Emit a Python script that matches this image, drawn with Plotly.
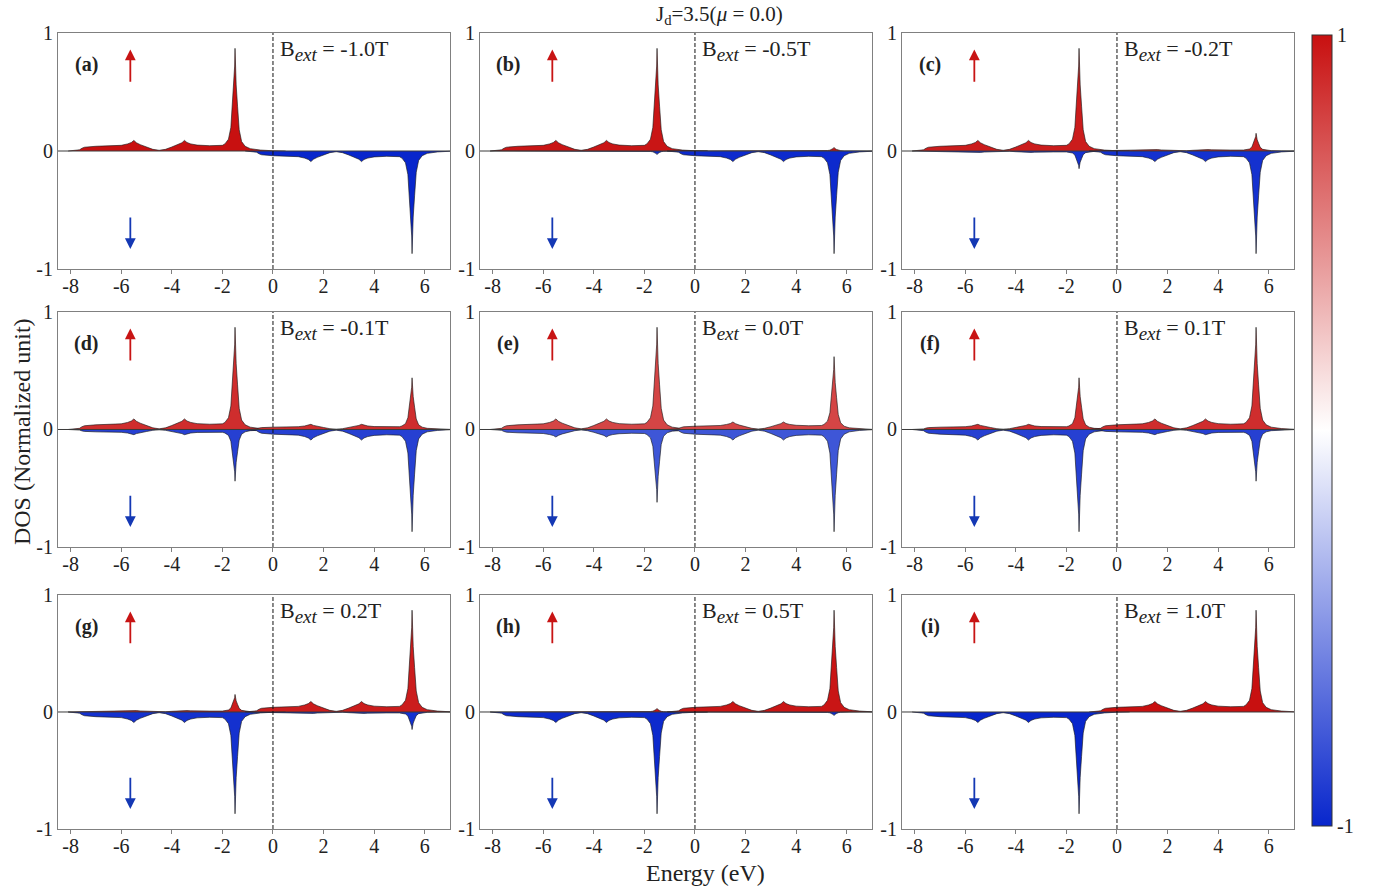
import plotly.graph_objects as go
from plotly.subplots import make_subplots
from plotly.colors import sample_colorscale

# ---------------------------------------------------------------------------
# Data
# ---------------------------------------------------------------------------
PANEL_TAGS = ["a", "b", "c", "d", "e", "f", "g", "h", "i"]
B_FIELDS = [-1.0, -0.5, -0.2, -0.1, 0.0, 0.1, 0.2, 0.5, 1.0]

# both bands share one profile grid: energies measured from the band centre
LOWER_CENTER = -4.5
UPPER_CENTER = 2.5
OFFSETS = [-3.6, -3.3, -3.15, -3.05, -2.95, -2.5, -2.0, -1.5, -1.25, -1.1,
           -1.0, -0.9, -0.75, -0.5, -0.25, 0.0, 0.25, 0.5, 0.75, 0.9,
           1.0, 1.1, 1.25, 1.5, 2.0, 2.5, 2.6, 2.74, 2.835, 2.9,
           2.955, 2.985, 3.0, 3.015, 3.045, 3.1, 3.165, 3.26, 3.4, 3.6,
           4.0, 4.5, 5.0]

# DOS magnitude of one band (normalized units)
DOS_FULL = [0.000, 0.003, 0.010, 0.024, 0.032, 0.040, 0.042, 0.048, 0.060, 0.072,
            0.090, 0.070, 0.054, 0.034, 0.014, 0.006, 0.014, 0.034, 0.054, 0.070,
            0.090, 0.072, 0.060, 0.050, 0.045, 0.048, 0.060, 0.100, 0.200, 0.400,
            0.570, 0.720, 0.870, 0.720, 0.560, 0.380, 0.180, 0.080, 0.040, 0.020,
            0.008, 0.002, 0.000]
DOS_ZERO_FIELD = [0.000, 0.002, 0.007, 0.017, 0.023, 0.028, 0.030, 0.034, 0.043, 0.051,
                  0.064, 0.050, 0.038, 0.024, 0.010, 0.004, 0.010, 0.024, 0.038, 0.050,
                  0.064, 0.051, 0.043, 0.036, 0.032, 0.034, 0.043, 0.071, 0.142, 0.284,
                  0.405, 0.511, 0.620, 0.511, 0.398, 0.270, 0.128, 0.057, 0.028, 0.014,
                  0.006, 0.001, 0.000]
DOS_MINOR_01 = [0.000, 0.002, 0.005, 0.012, 0.016, 0.020, 0.021, 0.024, 0.030, 0.036,
                0.044, 0.035, 0.027, 0.017, 0.007, 0.003, 0.007, 0.017, 0.027, 0.035,
                0.044, 0.036, 0.030, 0.025, 0.022, 0.024, 0.030, 0.050, 0.100, 0.200,
                0.285, 0.360, 0.440, 0.360, 0.280, 0.190, 0.090, 0.040, 0.020, 0.010,
                0.004, 0.001, 0.000]
DOS_MINOR_02 = [0.000, 0.001, 0.002, 0.004, 0.005, 0.007, 0.007, 0.008, 0.010, 0.012,
                0.015, 0.012, 0.009, 0.006, 0.002, 0.001, 0.002, 0.006, 0.009, 0.012,
                0.015, 0.012, 0.010, 0.008, 0.008, 0.008, 0.010, 0.017, 0.034, 0.068,
                0.097, 0.122, 0.150, 0.122, 0.095, 0.065, 0.031, 0.014, 0.007, 0.003,
                0.001, 0.000, 0.000]
DOS_MINOR_05 = [0.000, 0.000, 0.000, 0.001, 0.001, 0.001, 0.001, 0.002, 0.002, 0.002,
                0.003, 0.002, 0.002, 0.001, 0.000, 0.000, 0.000, 0.001, 0.002, 0.002,
                0.003, 0.002, 0.002, 0.002, 0.002, 0.002, 0.002, 0.004, 0.007, 0.013,
                0.019, 0.024, 0.030, 0.024, 0.019, 0.013, 0.006, 0.003, 0.001, 0.001,
                0.000, 0.000, 0.000]

PROFILES = {"full": DOS_FULL, "zero": DOS_ZERO_FIELD, "m01": DOS_MINOR_01,
            "m02": DOS_MINOR_02, "m05": DOS_MINOR_05}

# (spin-up lower, spin-up upper, spin-down lower, spin-down upper) per panel
PANEL_BANDS = [
    ("full", None, None, "full"),
    ("full", "m05", "m05", "full"),
    ("full", "m02", "m02", "full"),
    ("full", "m01", "m01", "full"),
    ("full", "zero", "zero", "full"),
    ("m01", "full", "full", "m01"),
    ("m02", "full", "full", "m02"),
    ("m05", "full", "full", "m05"),
    (None, "full", "full", None),
]
# net spin polarization used for the fill colour of each panel
POLARIZATION = [1.0, 0.98, 0.95, 0.88, 0.78, 0.88, 0.95, 0.98, 1.0]

X_TICKS = [-8, -6, -4, -2, 0, 2, 4, 6]
X_TICK_TEXT = ["-8", "-6", "-4", "-2", "0", "2", "4", "6"]
Y_TICKS = [-1, 0, 1]
Y_TICK_TEXT = ["-1", "0", "1"]

# ---------------------------------------------------------------------------
# Styling
# ---------------------------------------------------------------------------
FONT = "Liberation Serif"
TEXT = "#222"
COLORSCALE = [[0.0, "rgb(8,38,204)"], [0.5, "rgb(255,255,255)"], [1.0, "rgb(200,16,16)"]]
UP_ARROW = "#c81414"
DOWN_ARROW = "#1438b4"

X_DOMAINS = [[0.0, 0.31715], [0.34142, 0.65858], [0.68285, 1.0]]
Y_DOMAINS = [[0.70352, 1.0], [0.35427, 0.64950], [0.0, 0.29397]]

fig = make_subplots(rows=3, cols=3)

for k, tag in enumerate(PANEL_TAGS):
    row, col = k // 3 + 1, k % 3 + 1
    up_color = sample_colorscale(COLORSCALE, [(1 + POLARIZATION[k]) / 2])[0]
    dn_color = sample_colorscale(COLORSCALE, [(1 - POLARIZATION[k]) / 2])[0]
    bands = PANEL_BANDS[k]
    specs = [(bands[0], LOWER_CENTER, 1, up_color),
             (bands[1], UPPER_CENTER, 1, up_color),
             (bands[2], LOWER_CENTER, -1, dn_color),
             (bands[3], UPPER_CENTER, -1, dn_color)]
    for name, center, sign, color in specs:
        if name is None:
            continue
        energy = [center + o for o in OFFSETS]
        dos = [sign * v for v in PROFILES[name]]
        fig.add_trace(go.Scatter(
            x=energy, y=dos, mode="lines", fill="tozeroy", fillcolor=color,
            line=dict(color="rgba(25,25,25,0.8)", width=0.8),
            showlegend=False, hoverinfo="skip"), row=row, col=col)

    axn = "" if k == 0 else str(k + 1)
    xa, ya = "x" + axn, "y" + axn
    fig.update_xaxes(domain=X_DOMAINS[col - 1], range=[-8.5, 7],
                     tickvals=X_TICKS, ticktext=X_TICK_TEXT, ticks="outside",
                     ticklen=4, tickcolor="#808080", showgrid=False, zeroline=False,
                     showline=True, linecolor="#808080", linewidth=1, mirror=True,
                     ticklabelstandoff=-5,
                     tickfont=dict(family=FONT, size=20, color=TEXT),
                     row=row, col=col)
    fig.update_yaxes(domain=Y_DOMAINS[row - 1], range=[-1, 1],
                     tickvals=Y_TICKS, ticktext=Y_TICK_TEXT, ticks="",
                     showgrid=False, zeroline=False,
                     showline=True, linecolor="#808080", linewidth=1, mirror=True,
                     tickfont=dict(family=FONT, size=20, color=TEXT),
                     row=row, col=col)

    # zero line and Fermi level
    fig.add_shape(type="line", xref=xa, yref=ya, x0=-8.5, x1=7, y0=0, y1=0,
                  line=dict(color="#3a3a3a", width=1), layer="above")
    fig.add_shape(type="line", xref=xa, yref=ya, x0=0, x1=0, y0=-1, y1=1,
                  line=dict(color="#111", width=1, dash="4px,2px"), layer="above")

    # panel tag and field label
    fig.add_annotation(xref=xa, yref=ya, x=-7.38, y=0.73, text=f"<b>({tag})</b>",
                       showarrow=False, font=dict(family=FONT, size=20, color=TEXT))
    fig.add_annotation(xref=xa, yref=ya, x=0.2, y=0.85, xanchor="left",
                       yanchor="middle",
                       text=(f"B<sub><span style='font-size:19px'><i>ext</i></span></sub>"
                             f" = {B_FIELDS[k]:.1f}T"),
                       showarrow=False, font=dict(family=FONT, size=22, color=TEXT))
    # spin arrows
    fig.add_annotation(xref=xa, yref=ya, axref=xa, ayref=ya,
                       x=-5.64, y=0.86, ax=-5.64, ay=0.575, text="",
                       showarrow=True, arrowhead=2, arrowsize=1.2, arrowwidth=1.8,
                       arrowcolor=UP_ARROW)
    fig.add_annotation(xref=xa, yref=ya, axref=xa, ayref=ya,
                       x=-5.64, y=-0.83, ax=-5.64, ay=-0.55, text="",
                       showarrow=True, arrowhead=2, arrowsize=1.2, arrowwidth=1.8,
                       arrowcolor=DOWN_ARROW)

# colour bar
fig.add_trace(go.Scatter(
    x=[None], y=[None], mode="markers", showlegend=False, hoverinfo="skip",
    marker=dict(color=[0], colorscale=COLORSCALE, cmin=-1, cmax=1, showscale=True,
                colorbar=dict(thickness=20, thicknessmode="pixels", len=0.994,
                              lenmode="fraction", x=1.0146, xanchor="left",
                              y=0.5006, yanchor="middle", outlinewidth=1,
                              outlinecolor="#333", tickvals=[-1, 1],
                              ticktext=["-1", "1"], ticks="",
                              tickfont=dict(family=FONT, size=20, color=TEXT),
                              xpad=0, ypad=0))))

# titles
fig.add_annotation(xref="paper", yref="paper", x=0.5348, y=1.0226,
                   xanchor="center", yanchor="middle",
                   text="J<sub>d</sub>=3.5(<i>μ</i> = 0.0)", showarrow=False,
                   font=dict(family=FONT, size=21, color=TEXT))
fig.add_annotation(xref="paper", yref="paper", x=0.5235, y=-0.0553,
                   xanchor="center", yanchor="middle",
                   text="Energy (eV)", showarrow=False,
                   font=dict(family=FONT, size=24, color=TEXT))
fig.add_annotation(xref="paper", yref="paper", x=-0.0291, y=0.4987,
                   xanchor="center", yanchor="middle",
                   text="DOS (Normalized unit)", textangle=-90, showarrow=False,
                   font=dict(family=FONT, size=24, color=TEXT))

fig.update_layout(width=1385, height=894, margin=dict(l=58, r=91, t=33, b=65),
                  paper_bgcolor="white", plot_bgcolor="white")

fig.write_html("out.html")
